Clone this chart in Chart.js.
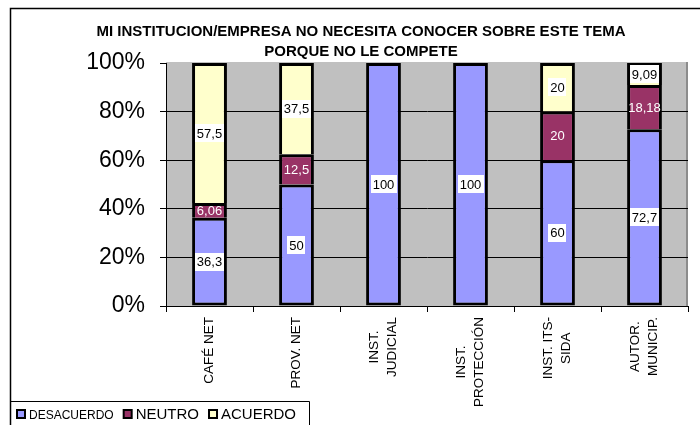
<!DOCTYPE html>
<html>
<head>
<meta charset="utf-8">
<script src="https://cdn.jsdelivr.net/npm/chart.js@4.4.1/dist/chart.umd.min.js"></script>
<style>
  html, body { margin: 0; padding: 0; background: #fff; }
</style>
</head>
<body>
<canvas id="chart" width="700" height="425"></canvas>
<script>
// data
const categories = [['CAFÉ NET'], ['PROV. NET'], ['INST.', 'JUDICIAL'], ['INST.', 'PROTECCIÓN'], ['INST. ITS-', 'SIDA'], ['AUTOR.', 'MUNICIP.']];
const seriesNames = ['DESACUERDO', 'NEUTRO', 'ACUERDO'];
const desacuerdo = [36.3, 50, 100, 100, 60, 72.7];
const neutro = [6.06, 12.5, 0, 0, 20, 18.18];
const acuerdo = [57.5, 37.5, 0, 0, 20, 9.09];
const yTicks = [0, 20, 40, 60, 80, 100];
const titleLines = ['MI INSTITUCION/EMPRESA NO NECESITA CONOCER SOBRE ESTE TEMA', 'PORQUE NO LE COMPETE'];

const seriesColors = ['#9999FF', '#993366', '#FFFFCC'];
const FONT = '"Liberation Sans", Arial, sans-serif';

// 100% stacked: each column scaled to its own total
const totals = desacuerdo.map((v, i) => v + neutro[i] + acuerdo[i]);
const pct = arr => arr.map((v, i) => v / totals[i] * 100);

const frame = {
    id: 'frame',
    beforeDraw(chart) {
        const { ctx, chartArea: a } = chart;
        ctx.save();
        ctx.fillStyle = '#fff';
        ctx.fillRect(0, 0, chart.width, chart.height);
        ctx.fillStyle = '#C0C0C0';
        ctx.fillRect(a.left, a.top - 1, a.right - a.left, a.bottom - a.top + 1);
        ctx.strokeStyle = '#8c8c8c';
        ctx.lineWidth = 2;
        ctx.beginPath();
        ctx.moveTo(a.right - 1, a.top - 1);
        ctx.lineTo(a.right - 1, a.bottom);
        ctx.stroke();
        // outer chart border
        ctx.strokeStyle = '#000';
        ctx.lineWidth = 1.5;
        ctx.beginPath();
        ctx.moveTo(10.5, chart.height);
        ctx.lineTo(10.5, 8.5);
        ctx.lineTo(chart.width, 8.5);
        ctx.stroke();
        ctx.restore();
    }
};

const valueLabels = {
    id: 'valueLabels',
    afterDatasetsDraw(chart) {
        const ctx = chart.ctx;
        ctx.save();
        ctx.font = '13px ' + FONT;
        ctx.textAlign = 'center';
        ctx.textBaseline = 'middle';
        chart.data.datasets.forEach((ds, i) => {
            chart.getDatasetMeta(i).data.forEach((bar, j) => {
                const v = ds.values[j];
                if (!v) return;
                const txt = String(v).replace('.', ',');
                const y = (bar.y + bar.base) / 2;
                const w = ctx.measureText(txt).width;
                if (i !== 1) {
                    ctx.fillStyle = '#fff';
                    ctx.fillRect(Math.round(bar.x - w / 2 - 2), Math.round(y - 9), Math.round(w + 4), 18);
                    ctx.fillStyle = '#000';
                } else {
                    ctx.fillStyle = '#fff';
                }
                ctx.fillText(txt, bar.x, y + 1);
            });
        });
        ctx.restore();
    }
};

const catLabels = {
    id: 'catLabels',
    afterDraw(chart) {
        const ctx = chart.ctx, xs = chart.scales.x;
        const top = chart.chartArea.bottom + 11;
        ctx.save();
        ctx.font = '13.5px ' + FONT;
        ctx.fillStyle = '#000';
        ctx.textAlign = 'center';
        ctx.textBaseline = 'middle';
        categories.forEach((lines, i) => {
            const cx = xs.getPixelForValue(i);
            const w = Math.max(...lines.map(l => ctx.measureText(l).width));
            lines.forEach((l, k) => {
                ctx.save();
                ctx.translate(cx + (k - (lines.length - 1) / 2) * 18, top + w / 2);
                ctx.rotate(-Math.PI / 2);
                ctx.fillText(l, 0, 0);
                ctx.restore();
            });
        });
        ctx.restore();
    }
};

const boxLegend = {
    id: 'boxLegend',
    afterDraw(chart) {
        const ctx = chart.ctx, h = chart.height;
        ctx.save();
        ctx.strokeStyle = '#000';
        ctx.lineWidth = 1;
        ctx.beginPath();
        ctx.moveTo(10, h - 23.5);
        ctx.lineTo(309.5, h - 23.5);
        ctx.lineTo(309.5, h);
        ctx.stroke();
        ctx.textBaseline = 'alphabetic';
        ctx.textAlign = 'left';
        let x = 16;
        chart.data.datasets.forEach((ds, i) => {
            ctx.fillStyle = '#000';
            ctx.fillRect(x, h - 16, 10, 10);
            ctx.fillStyle = ds.backgroundColor;
            ctx.fillRect(x + 2, h - 14, 6, 6);
            ctx.font = (i === 0 ? 12 : 15) + 'px ' + FONT;
            ctx.fillStyle = '#000';
            ctx.fillText(ds.label, x + 13, h - 6);
            x += 13 + ctx.measureText(ds.label).width + 9;
        });
        ctx.restore();
    }
};

const makeSet = (i, values) => ({
    label: seriesNames[i],
    values,
    data: pct(values),
    backgroundColor: seriesColors[i],
    borderColor: '#000',
    borderWidth: 3,
    borderSkipped: i === 0 ? false : 'start',
    barPercentage: 0.4,
    categoryPercentage: 1
});

new Chart(document.getElementById('chart'), {
    type: 'bar',
    data: {
        labels: categories.map(c => c.join(' ')),
        datasets: [makeSet(0, desacuerdo), makeSet(1, neutro), makeSet(2, acuerdo)]
    },
    options: {
        responsive: false,
        devicePixelRatio: 1,
        animation: false,
        layout: { padding: { left: 34, right: 12, top: 0, bottom: 0 } },
        plugins: {
            legend: { display: false },
            tooltip: { enabled: false },
            title: {
                display: true,
                text: titleLines,
                color: '#000',
                font: { family: FONT, size: 15, weight: 'bold', lineHeight: '20px' },
                padding: { top: 22, bottom: 1 }
            }
        },
        scales: {
            x: {
                stacked: true,
                afterFit: s => { s.height = 119; },
                ticks: { display: false },
                grid: { drawOnChartArea: false, offset: true, tickLength: 6, color: '#000' },
                border: { color: '#000', width: 1 }
            },
            y: {
                stacked: true,
                min: 0,
                max: 100,
                afterBuildTicks: s => { s.ticks = yTicks.map(v => ({ value: v })); },
                afterFit: s => { s.width = 132; },
                ticks: { callback: v => v + '%', color: '#000', padding: 15, font: { family: FONT, size: 23 } },
                grid: {
                    color: c => (c.tick && c.tick.value === 100) ? 'rgba(0,0,0,0)' : '#000',
                    tickColor: '#000',
                    tickLength: 6,
                    lineWidth: 1
                },
                border: { color: '#000', width: 1 }
            }
        }
    },
    plugins: [frame, valueLabels, catLabels, boxLegend]
});
</script>
</body>
</html>
